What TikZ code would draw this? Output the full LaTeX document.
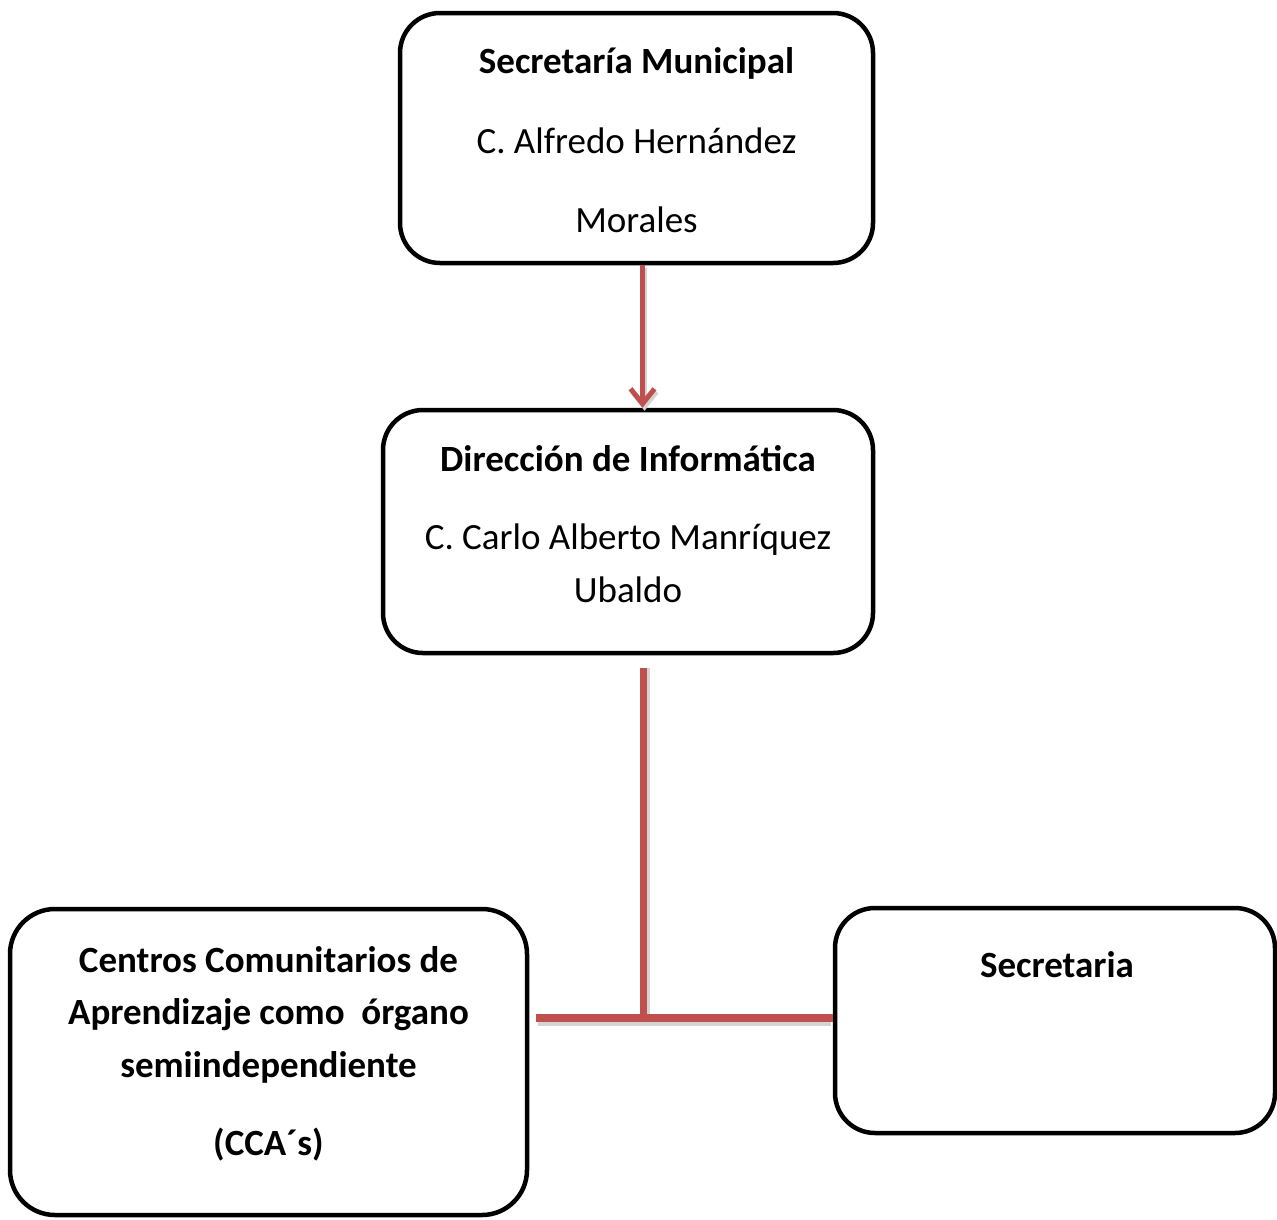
\documentclass[tikz,border=0pt]{standalone}
\usepackage{fontspec}
\setmainfont{Carlito}
\usetikzlibrary{arrows.meta}
\definecolor{accred}{HTML}{C0504D}
\definecolor{shadowgrey}{HTML}{D4D4D4}
\tikzset{
  orgbox/.style={draw=black, line width=4.5pt, rounded corners=40pt, fill=white, inner sep=0pt},
  txt/.style={anchor=base, inner sep=0pt, font=\fontsize{37}{44}\selectfont},
  btxt/.style={txt, font=\fontsize{37}{44}\selectfont\bfseries},
  redline/.style={draw=accred, line width=7pt},
  redshadow/.style={draw=shadowgrey, line width=7pt},
  tip/.style={-{Straight Barb[length=15pt,width=24pt]}},
}
\begin{document}
\begin{tikzpicture}[x=1pt,y=-1pt]
\useasboundingbox (0,0) rectangle (1277,1219);
% boxes
\node[orgbox, minimum width=473pt, minimum height=250pt] (b1) at (636.5,138) {};
\node[orgbox, minimum width=490pt, minimum height=243pt] (b2) at (628,531.5) {};
\node[orgbox, minimum width=517pt, minimum height=306pt, rounded corners=45pt] (b3) at (268.5,1062) {};
\node[orgbox, minimum width=440pt, minimum height=225pt] (b4) at (1055,1020.5) {};
% texts
\node[btxt] (t1a) at (636.5,73) {Secretaría Municipal};
\node[txt]  (t1b) at (636.5,153) {C. Alfredo Hernández};
\node[txt]  (t1c) at (636.5,232) {Morales};
\node[btxt] (t2a) at (628,471) {Dirección de Informática};
\node[txt]  (t2b) at (628,549) {C. Carlo Alberto Manríquez};
\node[txt]  (t2c) at (628,602) {Ubaldo};
\node[btxt] (t3a) at (268.5,972) {Centros Comunitarios de};
\node[btxt] (t3b) at (268.5,1024) {Aprendizaje como \ órgano};
\node[btxt] (t3c) at (268.5,1077) {semiindependiente};
\node[btxt] (t3d) at (268.5,1155) {(CCA´s)};
\node[btxt] (t4a) at (1057,977) {Secretaria};
% connector coordinates
\coordinate (ax) at (642.5,0);
\coordinate (vx) at (643,668);
\coordinate (j) at (643,1018);
% arrow b1 -> b2
\draw[draw=shadowgrey, line width=5pt, tip]
  ([xshift=2pt,yshift=-3pt]b1.south -| ax) -- ([xshift=2pt,yshift=-3pt]b2.north -| ax);
\draw[draw=accred, line width=5pt, tip]
  (b1.south -| ax) -- (b2.north -| ax);
% tree b2 -> b3, b4
\draw[redshadow] ([xshift=3pt]vx) -- ([xshift=3pt]j);
\draw[redshadow, line width=8.5pt] ([xshift=9pt,yshift=-4pt]b3.east |- j) -- ([xshift=-2pt,yshift=-4pt]b4.west |- j);
\draw[redline] (vx) -- ([yshift=3pt]j);
\draw[redline, line width=8.5pt] ([xshift=7pt]b3.east |- j) -- (b4.west |- j);
\end{tikzpicture}
\end{document}
